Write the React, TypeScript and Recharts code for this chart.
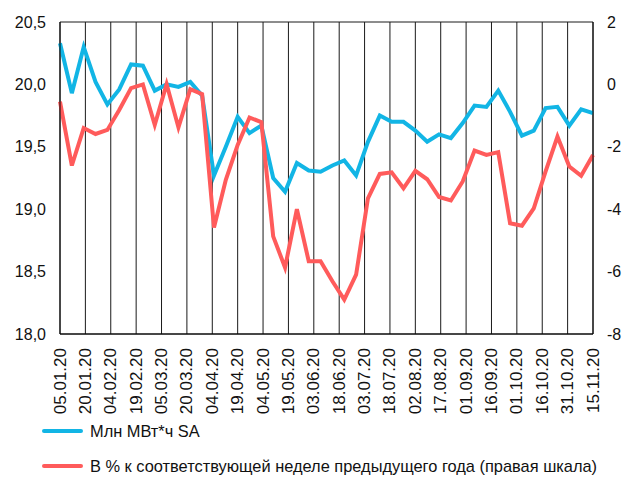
import React from "react";
import { CartesianGrid, Line, LineChart, XAxis, YAxis } from "recharts";

// weekly observations, 2020
const weeks = [
  "05.01", "12.01", "19.01", "26.01", "02.02", "09.02", "16.02", "23.02",
  "01.03", "08.03", "15.03", "22.03", "29.03", "05.04", "12.04", "19.04",
  "26.04", "03.05", "10.05", "17.05", "24.05", "31.05", "07.06", "14.06",
  "21.06", "28.06", "05.07", "12.07", "19.07", "26.07", "02.08", "09.08",
  "16.08", "23.08", "30.08", "06.09", "13.09", "20.09", "27.09", "04.10",
  "11.10", "18.10", "25.10", "01.11", "08.11", "15.11",
];

// Млн МВт*ч SA (left axis)
const consumption = [
  20.33, 19.93, 20.3, 20.02, 19.84, 19.96, 20.16, 20.15, 19.95, 20.0, 19.98,
  20.02, 19.91, 19.27, 19.5, 19.74, 19.61, 19.67, 19.25, 19.14, 19.37, 19.31,
  19.3, 19.35, 19.39, 19.27, 19.54, 19.75, 19.7, 19.7, 19.63, 19.54, 19.6,
  19.57, 19.69, 19.83, 19.82, 19.95, 19.78, 19.59, 19.63, 19.81, 19.82, 19.67,
  19.8, 19.77,
];

// % y/y (right axis)
const yoy = [
  -0.55, -2.6, -1.4, -1.59, -1.46, -0.82, -0.12, 0.0, -1.3, 0.01, -1.38, -0.15,
  -0.31, -4.59, -3.06, -1.94, -1.06, -1.21, -4.87, -5.87, -4.0, -5.67, -5.67,
  -6.31, -6.9, -6.1, -3.65, -2.87, -2.82, -3.33, -2.77, -3.04, -3.61, -3.72,
  -3.11, -2.12, -2.26, -2.17, -4.45, -4.53, -3.97, -2.79, -1.67, -2.63, -2.93,
  -2.26,
];

const tickLabels = [
  "05.01.20", "20.01.20", "04.02.20", "19.02.20", "05.03.20", "20.03.20",
  "04.04.20", "19.04.20", "04.05.20", "19.05.20", "03.06.20", "18.06.20",
  "03.07.20", "18.07.20", "02.08.20", "17.08.20", "01.09.20", "16.09.20",
  "01.10.20", "16.10.20", "31.10.20", "15.11.20",
];

const leftTicks = [18, 18.5, 19, 19.5, 20, 20.5];
const rightTicks = [-8, -6, -4, -2, 0, 2];

const BLUE = "#12B5E5";
const RED = "#FF5B5B";
const FONT = "'Liberation Sans', Arial, sans-serif";

const toDay = (s: string) => {
  const [d, m] = s.split(".").map(Number);
  return (Date.UTC(2020, m - 1, d) - Date.UTC(2020, 0, 1)) / 86400000;
};

const data = weeks.map((w, i) => ({
  day: toDay(w),
  cons: consumption[i],
  yoy: yoy[i],
}));

const tickDays = tickLabels.map(toDay);
const labelByDay: Record<number, string> = {};
tickLabels.forEach((t) => (labelByDay[toDay(t)] = t));

const DateTick = (props: any) => {
  const { x, y, payload } = props;
  return (
    <text
      transform={`translate(${x},${y}) rotate(-90)`}
      textAnchor="end"
      dominantBaseline="central"
      fontSize={17}
      fill="#111"
    >
      {labelByDay[payload.value]}
    </text>
  );
};

export default function App() {
  return (
    <div
      style={{
        position: "absolute",
        left: 0,
        top: 0,
        width: 625,
        height: 477,
        background: "#fff",
        fontFamily: FONT,
      }}
    >
      <LineChart
        width={625}
        height={420}
        data={data}
        margin={{ top: 22, right: 0, bottom: 0, left: 0 }}
      >
        <CartesianGrid stroke="#1a1a1a" strokeWidth={1} />
        <XAxis
          dataKey="day"
          type="number"
          domain={[tickDays[0], tickDays[tickDays.length - 1]]}
          ticks={tickDays}
          interval={0}
          height={86}
          tickLine={false}
          tickSize={0}
          tickMargin={14}
          axisLine={{ stroke: "#000" }}
          tick={<DateTick />}
        />
        <YAxis
          yAxisId="left"
          domain={[18, 20.5]}
          ticks={leftTicks}
          width={60}
          tickLine={false}
          tickSize={0}
          tickMargin={14}
          axisLine={{ stroke: "#000" }}
          tick={{ fontSize: 16, fill: "#111" }}
          tickFormatter={(v: number) => v.toFixed(1).replace(".", ",")}
        />
        <YAxis
          yAxisId="right"
          orientation="right"
          domain={[-8, 2]}
          ticks={rightTicks}
          width={32}
          tickLine={false}
          tickSize={0}
          tickMargin={14}
          axisLine={{ stroke: "#000" }}
          tick={{ fontSize: 16, fill: "#111" }}
        />
        <Line
          yAxisId="left"
          dataKey="cons"
          stroke={BLUE}
          strokeWidth={4}
          dot={false}
          type="linear"
          isAnimationActive={false}
        />
        <Line
          yAxisId="right"
          dataKey="yoy"
          stroke={RED}
          strokeWidth={4}
          dot={false}
          type="linear"
          isAnimationActive={false}
        />
      </LineChart>
      <div style={{ position: "absolute", left: 42, top: 421, fontSize: 16.4, color: "#111" }}>
        <div style={{ display: "flex", alignItems: "center", height: 20 }}>
          <span
            style={{ width: 41, height: 4, borderRadius: 2, background: BLUE, marginRight: 7 }}
          />
          <span>Млн МВт*ч SA</span>
        </div>
        <div style={{ display: "flex", alignItems: "center", height: 20, marginTop: 15 }}>
          <span
            style={{ width: 41, height: 4, borderRadius: 2, background: RED, marginRight: 7 }}
          />
          <span>В % к соответствующей неделе предыдущего года (правая шкала)</span>
        </div>
      </div>
    </div>
  );
}
